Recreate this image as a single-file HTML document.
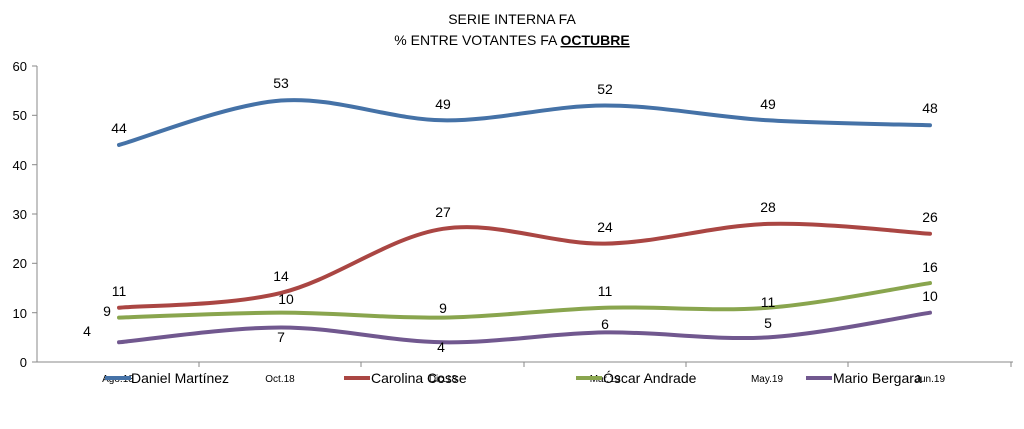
<!DOCTYPE html>
<html><head><meta charset="utf-8"><style>
body{margin:0;background:#fff;width:1024px;height:424px;overflow:hidden}
svg text{font-family:"Liberation Sans",sans-serif}
</style></head><body>
<svg id="s" width="1024" height="424" xmlns="http://www.w3.org/2000/svg">
<text x="512" y="24" font-size="14" text-anchor="middle">SERIE INTERNA FA</text>
<text x="512" y="45" font-size="14" text-anchor="middle">% ENTRE VOTANTES FA <tspan font-weight="bold" text-decoration="underline">OCTUBRE</tspan></text>
<g stroke="#888" stroke-width="1">
<line x1="37" y1="66" x2="37" y2="362"/>
<line x1="37" y1="362" x2="1013" y2="362"/>
<line x1="32" y1="66" x2="37" y2="66"/><line x1="32" y1="115.3" x2="37" y2="115.3"/>
<line x1="32" y1="164.7" x2="37" y2="164.7"/><line x1="32" y1="214" x2="37" y2="214"/>
<line x1="32" y1="263.3" x2="37" y2="263.3"/><line x1="32" y1="312.7" x2="37" y2="312.7"/>
<line x1="32" y1="362" x2="37" y2="362"/>
<line x1="199" y1="362" x2="199" y2="367"/><line x1="361" y1="362" x2="361" y2="367"/>
<line x1="524" y1="362" x2="524" y2="367"/><line x1="686" y1="362" x2="686" y2="367"/>
<line x1="848" y1="362" x2="848" y2="367"/><line x1="1011" y1="362" x2="1011" y2="367"/>
</g>
<g font-size="13" text-anchor="end">
<text x="27" y="71">60</text><text x="27" y="120">50</text><text x="27" y="170">40</text>
<text x="27" y="219">30</text><text x="27" y="268">20</text><text x="27" y="318">10</text><text x="27" y="367">0</text>
</g>
<g font-size="10" text-anchor="middle">
<text x="118" y="382">Ago.18</text><text x="280" y="382">Oct.18</text><text x="443" y="382">Dic.18</text>
<text x="605" y="382">Mar.19</text><text x="767" y="382">May.19</text><text x="930" y="382">Jun.19</text>
</g>
<g id="lines" fill="none" stroke-width="4" stroke-linecap="round"></g>
<g font-size="14" text-anchor="middle">
<text x="119" y="133">44</text><text x="281" y="88">53</text><text x="443" y="109">49</text><text x="605" y="94">52</text><text x="768" y="109">49</text><text x="930" y="113">48</text>
<text x="119" y="296">11</text><text x="281" y="281">14</text><text x="443" y="217">27</text><text x="605" y="232">24</text><text x="768" y="212">28</text><text x="930" y="222">26</text>
<text x="107" y="316">9</text><text x="286" y="304">10</text><text x="443" y="313">9</text><text x="605" y="296">11</text><text x="768" y="307">11</text><text x="930" y="272">16</text>
<text x="87" y="336">4</text><text x="281" y="342">7</text><text x="441" y="352">4</text><text x="605" y="329">6</text><text x="768" y="328">5</text><text x="930" y="301">10</text>
</g>
<g font-size="14">
<line x1="105" y1="378" x2="131" y2="378" stroke="#4572A7" stroke-width="4"/><text x="131" y="383">Daniel  Martínez</text>
<line x1="344" y1="378" x2="370" y2="378" stroke="#AA4643" stroke-width="4"/><text x="371" y="383">Carolina Cosse</text>
<line x1="576" y1="378" x2="602" y2="378" stroke="#89A54E" stroke-width="4"/><text x="603" y="383">Óscar Andrade</text>
<line x1="806" y1="378" x2="832" y2="378" stroke="#71588F" stroke-width="4"/><text x="833" y="383">Mario Bergara</text>
</g>
</svg>
<script>
var xs=[119,281,443,605,768,930];
var S=[["#4572A7",[44,53,49,52,49,48]],["#AA4643",[11,14,27,24,28,26]],["#89A54E",[9,10,9,11,11,16]],["#71588F",[4,7,4,6,5,10]]];
var g=document.getElementById('lines');
S.forEach(function(s){
 var p=s[1].map(function(v,i){return [xs[i],362-v*4.933];});
 var d="M"+p[0][0]+","+p[0][1];
 for(var i=0;i<p.length-1;i++){
  var p0=p[i-1]||p[i],p1=p[i],p2=p[i+1],p3=p[i+2]||p2,t=6;
  d+=" C"+(p1[0]+(p2[0]-p0[0])/t)+","+(p1[1]+(p2[1]-p0[1])/t)+" "+(p2[0]-(p3[0]-p1[0])/t)+","+(p2[1]-(p3[1]-p1[1])/t)+" "+p2[0]+","+p2[1];
 }
 var e=document.createElementNS("http://www.w3.org/2000/svg","path");
 e.setAttribute("d",d);e.setAttribute("stroke",s[0]);g.appendChild(e);
});
</script>
</body></html>
